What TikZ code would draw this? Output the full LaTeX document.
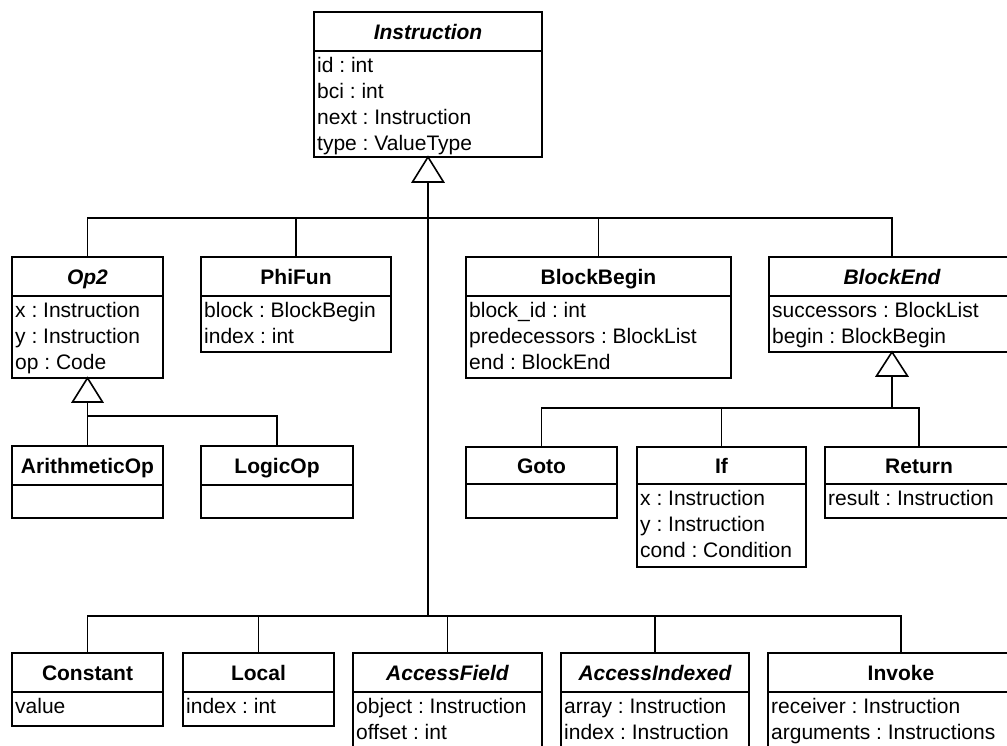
\documentclass[tikz,border=0pt]{standalone}
\usepackage{fontspec}
\setmainfont{Liberation Sans}
\frenchspacing
\tikzset{
  classbox/.style={draw, line width=1.8pt, fill=white, inner sep=0pt, outer sep=0pt},
  sepline/.style={line width=1.8pt},
  ctitle/.style={font=\fontsize{21}{26}\selectfont\bfseries, inner sep=0pt, anchor=base},
  cattr/.style={font=\fontsize{21}{26}\selectfont\frenchspacing, inner sep=0pt, anchor=base west},
  conn/.style={line width=1.1pt},
  gen/.style={line width=1.6pt, fill=white, line join=miter},
}
\newcommand\umlbox[8]{%
  \node[classbox, minimum width={(#3-#2)*1pt}, minimum height={(#6-#4)*1pt}] (#1) at ({(#2+#3)/2},{(#4+#6)/2}) {};
  \draw[sepline] (#2,#5) -- (#3,#5);
  \node[ctitle] (#1-t) at ({(#2+#3)/2},{(#4+#5)/2+7.5}) {#7};
  \if\relax\detokenize{#8}\relax\else
  \foreach \attrline [count=\attridx] in {#8} {\node[cattr] (#1-a\attridx) at ({#2+3},{#5+21.5+26*(\attridx-1)}) {\attrline};}
  \fi
}
\begin{document}
\begin{tikzpicture}[x=1pt,y=-1pt]
\useasboundingbox (0,0) rectangle (1007,745);
\fill[white] (0,0) rectangle (1007,745);
\clip (0,0) rectangle (1007,745);

% classes
\umlbox{instr}{314}{542}{12}{51}{157}{\itshape Instruction}{id : int, bci : int, next : Instruction, type : ValueType}
\umlbox{op2}{12}{163}{257}{296}{378}{\itshape Op2}{x : Instruction, y : Instruction, op : Code}
\umlbox{phifun}{201}{391}{257}{296}{352}{PhiFun}{block : BlockBegin, index : int}
\umlbox{blockbegin}{466}{731}{257}{296}{378}{BlockBegin}{block\_id : int, predecessors : BlockList, end : BlockEnd}
\umlbox{blockend}{769}{1015}{257}{296}{352}{\itshape BlockEnd}{successors : BlockList, begin : BlockBegin}
\umlbox{arith}{12}{163}{446}{485}{518}{ArithmeticOp}{}
\umlbox{logicop}{201}{353}{446}{485}{518}{LogicOp}{}
\umlbox{goto}{466}{617}{447}{484}{518}{Goto}{}
\umlbox{if}{637}{806}{447}{484}{567}{If}{x : Instruction, y : Instruction, cond : Condition}
\umlbox{return}{825}{1013}{447}{484}{518}{Return}{result : Instruction}
\umlbox{constant}{12}{163}{653}{692}{726}{Constant}{value}
\umlbox{local}{183}{334}{653}{692}{726}{Local}{index : int}
\umlbox{accessfield}{353}{542}{653}{692}{752}{\itshape AccessField}{object : Instruction, offset : int}
\umlbox{accessindexed}{561}{749}{653}{692}{752}{\itshape AccessIndexed}{array : Instruction, index : Instruction}
\umlbox{invoke}{768}{1034}{653}{692}{752}{Invoke}{receiver : Instruction, arguments : Instructions}

% bus points
\coordinate (busA) at (428,218);
\coordinate (busB) at (428,616);
\coordinate (busC) at (88,416);
\coordinate (busD) at (892,408);

% Instruction generalization
\draw[conn] ([yshift=-25pt]instr.south) -- (busB);
\draw[conn] (op2.north) |- (busA) -| (blockend.north);
\draw[conn] (phifun.north) -- (phifun.north |- busA);
\draw[conn] (blockbegin.north) -- (blockbegin.north |- busA);
\draw[conn] (constant.north) |- (busB) -| (invoke.north);
\draw[conn] (local.north) -- (local.north |- busB);
\draw[conn] (accessfield.north) -- (accessfield.north |- busB);
\draw[conn] (accessindexed.north) -- (accessindexed.north |- busB);
\draw[gen] (instr.south) -- ++(-15.5,25) -- ++(31,0) -- cycle;

% Op2 generalization
\draw[conn] ([yshift=-24pt]op2.south) -- (arith.north);
\draw[conn] (busC) -| (logicop.north);
\draw[gen] (op2.south) -- ++(-15,24) -- ++(30,0) -- cycle;

% BlockEnd generalization
\draw[conn] ([yshift=-24pt]blockend.south) -- (busD);
\draw[conn] (goto.north) |- (busD) -| (return.north);
\draw[conn] (if.north) -- (if.north |- busD);
\draw[gen] (blockend.south) -- ++(-15.5,24) -- ++(31,0) -- cycle;
\end{tikzpicture}
\end{document}
